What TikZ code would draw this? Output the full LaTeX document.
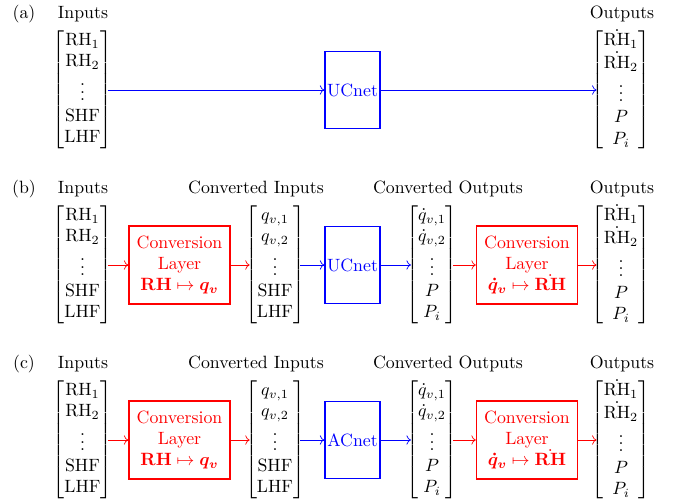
\documentclass[tikz,border=0pt]{standalone}
\usepackage{amsmath}
\usetikzlibrary{arrows.meta}
\newcommand\myInMat{$\begin{bmatrix}\mathrm{RH}_1\\ \mathrm{RH}_2\\ \vdots\\ \mathrm{SHF}\\ \mathrm{LHF}\end{bmatrix}$}
\newcommand\myOutMat{$\begin{bmatrix}\dot{\mathrm{RH}}_1\\ \dot{\mathrm{RH}}_2\\ \vdots\\ P\\ P_i\end{bmatrix}$}
\newcommand\myCInMat{$\begin{bmatrix}q_{v,1}\\ q_{v,2}\\ \vdots\\ \mathrm{SHF}\\ \mathrm{LHF}\end{bmatrix}$}
\newcommand\myCOutMat{$\begin{bmatrix}\dot q_{v,1}\\ \dot q_{v,2}\\ \vdots\\ P\\ P_i\end{bmatrix}$}
\begin{document}
\begin{tikzpicture}[x=0.5618pt,y=-0.5618pt,
  lab/.style={anchor=base, inner sep=0pt},
  mat/.style={inner sep=0pt},
  convbox/.style={draw=red, text=red, thick, align=center, minimum width=56.7pt, minimum height=43.8pt, inner sep=1pt},
  netbox/.style={draw=blue, text=blue, thick, minimum width=30.9pt, minimum height=43.3pt, inner sep=0pt},
  redarr/.style={red, ->},
  bluearr/.style={blue, ->}]
\useasboundingbox (0,0) rectangle (693,502);
% Row (a)
\node[lab] (a-tag) at (24,18) {(a)};
\node[lab] (a-inlab) at (83,18) {Inputs};
\node[lab] (a-outlab) at (622,18) {Outputs};
\node[mat] (a-in) at (82.5,90) {\myInMat};
\node[netbox] (a-net) at (352.5,90) {UCnet};
\node[mat] (a-out) at (621,90) {\myOutMat};
\draw[bluearr] ([xshift=-2.8pt]a-in.east) -- (a-net.west);
\draw[bluearr] (a-net.east) -- ([xshift=2.8pt]a-out.west);
% Rows (b) and (c)
\foreach \r/\y/\net in {b/265/UCnet, c/440/ACnet} {
  \node[lab] (\r-tag) at (24,{\y-72}) {(\r)};
  \node[lab] (\r-inlab) at (83,{\y-72}) {Inputs};
  \node[lab] (\r-cinlab) at (256,{\y-72}) {Converted Inputs};
  \node[lab] (\r-coutlab) at (448,{\y-72}) {Converted Outputs};
  \node[lab] (\r-outlab) at (622,{\y-72}) {Outputs};
  \node[mat] (\r-in) at (82.5,\y) {\myInMat};
  \node[convbox] (\r-c1) at (179.5,\y) {Conversion\\Layer\\$\mathbf{RH}\mapsto\boldsymbol{q_v}$};
  \node[mat] (\r-cin) at (275,\y) {\myCInMat};
  \node[netbox] (\r-net) at (352.5,\y) {\net};
  \node[mat] (\r-cout) at (432,\y) {\myCOutMat};
  \node[convbox] (\r-c2) at (527,\y) {Conversion\\Layer\\$\boldsymbol{\dot q_v}\mapsto\dot{\mathbf{RH}}$};
  \node[mat] (\r-out) at (621,\y) {\myOutMat};
  \draw[redarr] ([xshift=-2.8pt]\r-in.east) -- (\r-c1.west);
  \draw[redarr] (\r-c1.east) -- ([xshift=2.8pt]\r-cin.west);
  \draw[bluearr] ([xshift=-2.8pt]\r-cin.east) -- (\r-net.west);
  \draw[bluearr] (\r-net.east) -- ([xshift=2.8pt]\r-cout.west);
  \draw[redarr] ([xshift=-2.8pt]\r-cout.east) -- (\r-c2.west);
  \draw[redarr] (\r-c2.east) -- ([xshift=2.8pt]\r-out.west);
}
\end{tikzpicture}
\end{document}
